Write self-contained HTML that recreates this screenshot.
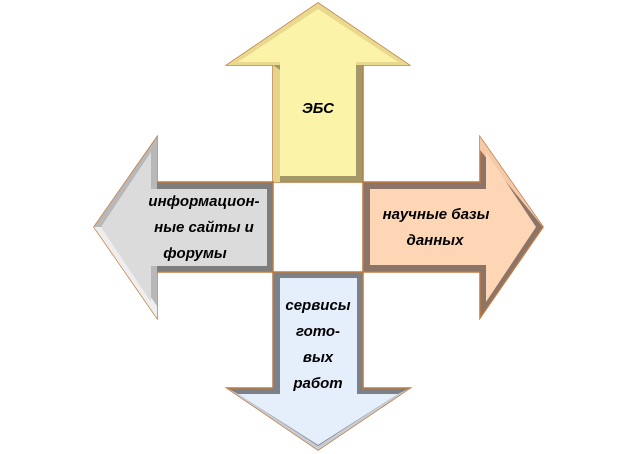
<!DOCTYPE html>
<html><head><meta charset="utf-8"><style>
html,body{margin:0;padding:0;background:#fff;width:636px;height:454px;overflow:hidden}
svg{display:block}
text{font-family:"Liberation Sans","DejaVu Sans",sans-serif;font-weight:bold;font-style:italic;font-size:15px;fill:#000;text-anchor:middle}
</style></head><body>
<svg width="636" height="454" viewBox="0 0 636 454">
<!-- Up arrow -->
<polygon points="318,3 409,65 363,65 363,182 273,182 273,65 227,65" fill="#a39868" stroke="#c07a3e" stroke-width="1.5"/>
<polygon points="318,3 409,65 227,65" fill="#e8d98f"/>
<polygon points="273,65 280,70 280,182 273,182" fill="#e3d48a"/>
<polygon points="318,9 398,62 356,62 356,176 280,176 280,62 238,62" fill="#fbf3a8"/>
<!-- Left arrow -->
<polygon points="94,227 157,137 157,182 273,182 273,272 157,272 157,318" fill="#7d7d7d" stroke="#c07a3e" stroke-width="1.5"/>
<polygon points="94,227 157,137 157,318" fill="#b8b8b8"/>
<polygon points="94,227 157,318 157,306 103,227" fill="#eeeeee"/>
<polygon points="101,227 151,152 151,189 267,189 267,266 151,266 151,302" fill="#dcdbdb"/>
<!-- Right arrow -->
<polygon points="543,227 480,137 480,182 363,182 363,272 480,272 480,318" fill="#8d7468" stroke="#c07a3e" stroke-width="1.5"/>
<polygon points="543,227 480,137 480,150" fill="#f4c9a8"/>
<polygon points="536,227 486,152 486,189 370,189 370,265 486,265 486,302" fill="#fdd6b5"/>
<!-- Down arrow -->
<polygon points="273,272 363,272 363,388 410,388 318,450 227,388 273,388" fill="#7c8088" stroke="#c07a3e" stroke-width="1.5"/>
<polygon points="227,388 318,450 410,388 398,394 318,446 238,394" fill="#c8ccd4"/>
<polygon points="280,278 357,278 357,394 398,394 318,445 238,394 280,394" fill="#e5eefb"/>
<!-- labels -->
<text x="318" y="113">ЭБС</text>
<text x="204" y="206">информацион-</text>
<text x="204" y="232">ные сайты и</text>
<text x="195" y="258">форумы</text>
<text x="436" y="219">научные базы</text>
<text x="435" y="245">данных</text>
<text x="318" y="310">сервисы</text>
<text x="318" y="336">гото-</text>
<text x="318" y="362">вых</text>
<text x="318" y="388">работ</text>
</svg>
</body></html>
